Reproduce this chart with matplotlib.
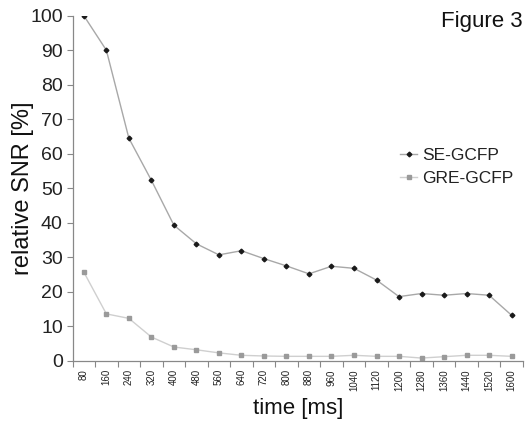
import matplotlib
matplotlib.use("Agg")
import matplotlib.pyplot as plt
import numpy as np

plt.rcParams['font.family'] = ['Liberation Sans', 'DejaVu Sans']

times = [80, 160, 240, 320, 400, 480, 560, 640, 720, 800,
         880, 960, 1040, 1120, 1200, 1280, 1360, 1440, 1520, 1600]
se_gcfp = [100, 90, 64.5, 52.3, 39.3, 33.9, 30.7, 31.9, 29.6, 27.5,
           25.2, 27.4, 26.8, 23.4, 18.6, 19.5, 19.0, 19.5, 19.0, 13.2]
gre_gcfp = [25.7, 13.6, 12.3, 6.9, 4.0, 3.2, 2.3, 1.6, 1.4, 1.3,
            1.3, 1.3, 1.6, 1.3, 1.3, 0.8, 1.2, 1.6, 1.6, 1.3]
yticks = [0, 10, 20, 30, 40, 50, 60, 70, 80, 90, 100]

fig = plt.figure(figsize=(5.26, 4.24), dpi=100)
ax = fig.add_axes([0.138, 0.149, 0.856, 0.814])

x = np.arange(len(times))
ax.plot(x, se_gcfp, color='#a8a8a8', lw=1.0, marker='D', ms=2.4,
        mfc='#1a1a1a', mec='#1a1a1a', label='SE-GCFP', zorder=3)
ax.plot(x, gre_gcfp, color='#cfcfcf', lw=1.0, marker='s', ms=2.8,
        mfc='#9a9a9a', mec='#9a9a9a', label='GRE-GCFP', zorder=2)

ax.set_xlim(-0.5, len(times) - 0.5)
ax.set_ylim(0, 100)
ax.set_yticks(yticks)
ax.set_yticklabels([str(v) for v in yticks], fontsize=14, color='#222222')
ax.set_xticks(x)
ax.set_xticklabels([str(t) for t in times], rotation=90, fontsize=7, color='#222222')
ax.set_xticks(np.arange(-0.5, len(times), 1.0), minor=True)
ax.tick_params(axis='x', which='major', length=0, pad=6)
ax.tick_params(axis='x', which='minor', length=4, width=0.8, color='#888888', direction='out')
ax.tick_params(axis='y', length=4, width=0.8, color='#888888', direction='out', pad=3)

for s in ['top', 'right']:
    ax.spines[s].set_visible(False)
for s in ['left', 'bottom']:
    ax.spines[s].set_color('#888888')
    ax.spines[s].set_linewidth(0.9)

ax.set_ylabel('relative SNR [%]', fontsize=17, color='#111111', labelpad=-3)
ax.set_xlabel('time [ms]', fontsize=16, color='#111111', labelpad=5)

fig.text(0.994, 0.950, 'Figure 3', fontsize=16, ha='right', va='center', color='#111111')

leg = ax.legend(loc='center left', bbox_to_anchor=(400 / 526, 1 - 167 / 424),
                bbox_transform=fig.transFigure, frameon=False, fontsize=12.5,
                handlelength=1.0, handletextpad=0.3, labelspacing=0.45,
                borderaxespad=0, borderpad=0)
for t in leg.get_texts():
    t.set_color('#222222')

fig.savefig('out.png', dpi=100)
